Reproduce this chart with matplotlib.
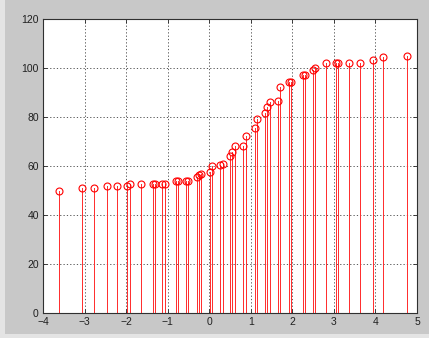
import matplotlib
matplotlib.use('Agg')
import matplotlib.pyplot as plt
from matplotlib.patches import Rectangle

# sample positions and measured values
x_vals = [-3.605, -3.05, -2.78, -2.47, -2.22, -1.98, -1.91, -1.65, -1.36, -1.30,
          -1.13, -1.07, -0.81, -0.755, -0.57, -0.51, -0.30, -0.24, -0.19, 0.01,
          0.07, 0.27, 0.33, 0.51, 0.56, 0.63, 0.82, 0.88, 1.09, 1.16,
          1.34, 1.40, 1.46, 1.66, 1.71, 1.91, 1.97, 2.25, 2.30, 2.49,
          2.55, 2.80, 3.05, 3.11, 3.37, 3.64, 3.94, 4.19, 4.76]
y_vals = [49.8, 51.0, 51.0, 51.8, 51.8, 51.7, 52.5, 52.5, 52.5, 52.5,
          52.5, 52.5, 53.8, 53.8, 53.8, 53.8, 55.5, 56.5, 56.9, 57.4,
          59.8, 60.5, 60.8, 64.0, 65.6, 68.0, 68.3, 72.2, 75.5, 79.1,
          81.5, 84.1, 86.1, 86.4, 92.2, 94.2, 94.2, 97.1, 97.1, 99.2,
          100.2, 102.2, 102.2, 102.2, 102.2, 102.2, 103.1, 104.4, 105.0]
x_ticks = [-4, -3, -2, -1, 0, 1, 2, 3, 4, 5]
y_ticks = [0, 20, 40, 60, 80, 100, 120]

plt.rcParams['font.family'] = ['Liberation Sans', 'DejaVu Sans']

fig = plt.figure(figsize=(4.29, 3.38), dpi=100, facecolor='#c8c8c8')
# lighter window edge on the left and bottom
fig.patches.append(Rectangle((0, 0), 5 / 429, 1, transform=fig.transFigure,
                             facecolor='#e4e4e4', edgecolor='none', zorder=-1))
fig.patches.append(Rectangle((0, 0), 1, 4 / 338, transform=fig.transFigure,
                             facecolor='#e4e4e4', edgecolor='none', zorder=-1))

ax = fig.add_axes([43 / 429, 25 / 338, 374 / 429, 294 / 338])
ax.set_facecolor('white')

markerline, stemlines, baseline = ax.stem(x_vals, y_vals, basefmt=' ')
plt.setp(stemlines, color='#ff3030', linewidth=0.7, antialiased=False)
plt.setp(markerline, color='#ff0000', marker='o', markerfacecolor='none',
         markersize=5, markeredgewidth=0.8)

ax.set_xlim(-4, 5)
ax.set_ylim(0, 120)
ax.set_xticks(x_ticks)
ax.set_yticks(y_ticks)
ax.grid(True, color='#404040', linestyle=(0, (1.5, 2.5)), linewidth=0.6)
ax.set_axisbelow(True)
ax.tick_params(direction='in', length=3, width=0.6, top=True, right=True,
               labelsize=7.5, colors='#202020', pad=3)
for sp in ax.spines.values():
    sp.set_color('#303030')
    sp.set_linewidth(0.8)

plt.savefig('out.png', dpi=100, facecolor=fig.get_facecolor())
